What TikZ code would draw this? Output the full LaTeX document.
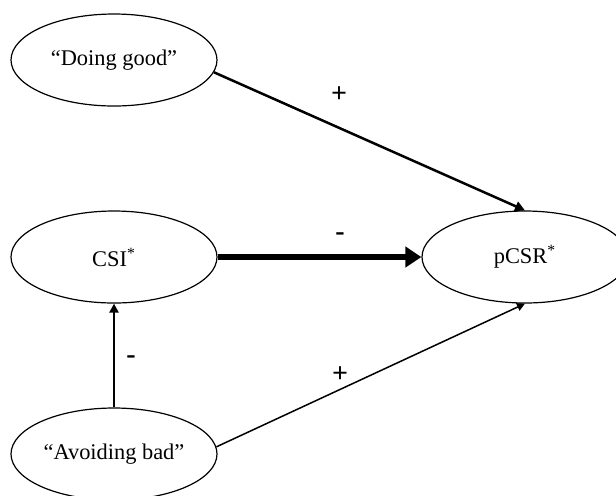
\documentclass[tikz,border=0pt]{standalone}
\usepackage{fontspec}
\setmainfont{Liberation Serif}
\usetikzlibrary{shapes.geometric,arrows.meta}
\tikzset{
  construct/.style={ellipse,draw=black,line width=0.6pt,minimum width=103pt,minimum height=46pt,inner sep=0pt,fill=white},
  sign/.style={inner sep=0pt,font=\fontsize{14}{16}\selectfont\bfseries},
  path/.style={draw=black}
}
\begin{document}
\begin{tikzpicture}[x=0.5pt,y=-0.5pt,font=\fontsize{11.2}{13}\selectfont]
\useasboundingbox (0,0) rectangle (616,495);
\fill[white] (0,0) rectangle (616,495);
\node[construct] (dg) at (114,60) {``Doing good''};
\node[construct] (cs) at (114,257) {CSI\textsuperscript{*}};
\node[construct] (p) at (525,257) {pCSR\textsuperscript{*}};
\node[construct] (ab) at (114,454) {``Avoiding bad''};
\draw[path,line width=1.25pt,-{Triangle[length=5pt,width=5pt]}] (dg.-7) -- (p.north);
\draw[path,line width=3.2pt,-{Triangle[length=8pt,width=10pt]}] (cs.east) -- (p.west);
\draw[path,line width=0.75pt,-{Triangle[length=4pt,width=4pt]}] (ab.4) -- (p.south);
\draw[path,line width=1.2pt,-{Triangle[length=4.5pt,width=4.5pt]}] (ab.north) -- (cs.south);
\node[sign] (s1) at (339,95) {+};
\node[sign] (s2) at (340,237) {-};
\node[sign] (s3) at (131,360) {-};
\node[sign] (s4) at (340,375) {+};
\end{tikzpicture}
\end{document}
